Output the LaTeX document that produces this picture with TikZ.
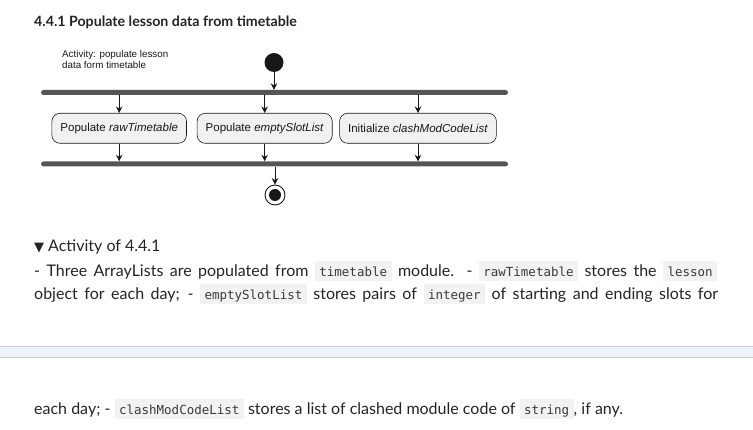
\documentclass[tikz,border=0pt]{standalone}
\usepackage{fontspec}
\setmainfont{Lato}
\newfontfamily\umlfont{Liberation Sans}
\newfontfamily\codefont{DejaVu Sans Mono}
\newfontfamily\symfont{DejaVu Sans}
\usetikzlibrary{arrows.meta}

\definecolor{ink}{HTML}{242424}
\definecolor{umlink}{HTML}{181818}
\definecolor{barcol}{HTML}{555555}
\definecolor{actfill}{HTML}{F1F1F1}
\definecolor{codebg}{HTML}{F2F2F2}
\definecolor{bandfill}{HTML}{EEF2F9}
\definecolor{bandline}{HTML}{CBD2DE}

\newcommand{\codechip}[1]{{\setlength{\fboxsep}{0pt}\colorbox{codebg}{\hspace{4.5pt}\rule[-4.3pt]{0pt}{20.3pt}{\codefont\fontsize{12.5}{14}\selectfont\color{ink!90}#1}\hspace{4.5pt}}}}

\tikzset{
  actbox/.style={rectangle, rounded corners=8pt, draw=umlink, line width=0.6pt, fill=actfill,
    minimum height=30pt, inner xsep=8.5pt, font=\umlfont\fontsize{11.5}{13}\selectfont, text=umlink},
  syncbar/.style={rectangle, fill=barcol, rounded corners=2.5pt, minimum height=5pt,
    minimum width=467pt, inner sep=0pt},
  flow/.style={-{Stealth[length=6.5pt,width=6.5pt]}, line width=0.9pt, draw=umlink},
  bodytext/.style={anchor=base west, inner sep=0pt, text=ink, font=\fontsize{16}{19}\selectfont},
}

\begin{document}
\begin{tikzpicture}[x=1pt, y=-1pt]
\useasboundingbox (0,0) rectangle (753,430);

% 見出し
\node[anchor=base west, inner sep=0pt, text=ink, font=\bfseries\fontsize{14.2}{17}\selectfont] (title) at (34,26.7) {4.4.1 Populate lesson data from timetable};

% 図のノード
\node[anchor=north west, inner sep=0pt, align=left, text=umlink, font=\umlfont\fontsize{9.8}{11.5}\selectfont] (caption) at (62,50) {Activity: populate lesson\\data form timetable};
\node[circle, fill=umlink, minimum size=19pt, inner sep=0pt] (start) at (274,62.5) {};
\node[syncbar] (fork) at (274.5,92.5) {};
\node[actbox] (raw) at (119.2,128.3) {Populate \textit{rawTimetable}};
\node[actbox] (empty) at (264.7,128.3) {Populate \textit{emptySlotList}};
\node[actbox] (clash) at (418,128.3) {Initialize \textit{clashModCodeList}};
\node[syncbar] (join) at (274.5,164) {};
\node[circle, draw=umlink, line width=0.9pt, fill=white, minimum size=20pt, inner sep=0pt] (stop) at (275,195) {};
\node[circle, fill=umlink, minimum size=12pt, inner sep=0pt] (stopdot) at (275,195) {};

% 矢印を引く
\draw[flow] (start) -- (start |- fork.north);
\foreach \a in {raw, empty, clash} {
  \draw[flow] (fork.south -| \a) -- (\a);
  \draw[flow] (\a) -- (\a |- join.north);
}
\draw[flow] (join.south -| stop) -- (stop);

% 本文
\node[bodytext] (toggle) at (34,251.7) {{\symfont\fontsize{13}{15}\selectfont ▼}\hspace{4pt}Activity of 4.4.1};
\node[bodytext] (line1) at (34,276.7) {\makebox[683pt][s]{- Three ArrayLists are populated from \codechip{timetable} module. - \codechip{rawTimetable} stores the \codechip{lesson}}};
\node[bodytext] (line2) at (34,300) {\makebox[684pt][s]{object for each day; - \codechip{emptySlotList} stores pairs of \codechip{integer} of starting and ending slots for}};
\fill[bandfill] (0,346) rectangle (753,357);
\draw[bandline, line width=0.8pt] (0,346) -- (753,346) (0,357) -- (753,357);
\node[bodytext] (line3) at (34,415) {each day; - \codechip{clashModCodeList} stores a list of clashed module code of \codechip{string}, if any.};
\end{tikzpicture}
\end{document}
